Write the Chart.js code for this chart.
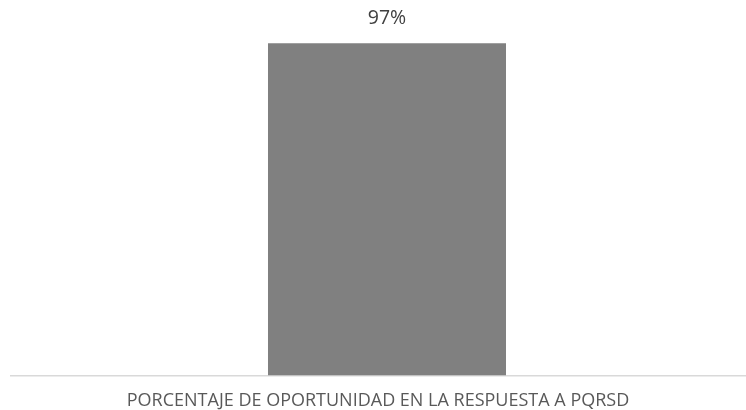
<!DOCTYPE html>
<html><head><meta charset="utf-8">
<script src="https://cdn.jsdelivr.net/npm/chart.js@4/dist/chart.umd.min.js"></script>
<style>
html,body{margin:0;padding:0;background:#fff;overflow:hidden;width:746px;height:410px;}
#wrap{position:absolute;left:0;top:0;width:776px;height:427px;}
</style></head>
<body><div id="wrap"><canvas id="c"></canvas></div>
<script>
const categories = ["PORCENTAJE DE OPORTUNIDAD EN LA RESPUESTA A PQRSD"];
const values = [97];
const valueLabels = ["97%"];

const labelPlugin = {
  id: 'vlabels',
  afterDatasetsDraw(chart) {
    const ctx = chart.ctx;
    const meta = chart.getDatasetMeta(0);
    ctx.save();
    ctx.font = '19.5px "Open Sans"';
    ctx.fillStyle = '#404040';
    ctx.textAlign = 'center';
    ctx.textBaseline = 'middle';
    meta.data.forEach((bar, i) => {
      ctx.fillText(valueLabels[i], bar.x, bar.y - 24.5);
    });
    ctx.restore();
  }
};

new Chart(document.getElementById('c'), {
  type: 'bar',
  data: {
    labels: categories,
    datasets: [{
      data: values,
      backgroundColor: '#808080',
      borderWidth: 0,
      barPercentage: 0.3165,
      categoryPercentage: 1
    }]
  },
  options: {
    responsive: true,
    maintainAspectRatio: false,
    animation: false,
    layout: { padding: { left: 11, right: 13, top: 33, bottom: 0 } },
    plugins: { legend: { display: false }, tooltip: { enabled: false } },
    scales: {
      x: {
        grid: { display: false, drawTicks: false },
        border: { display: true, color: '#d9d9d9', width: 1.5 },
        ticks: { color: '#595959', font: { family: '"Open Sans"', size: 18 }, padding: 15, labelOffset: -9, maxRotation: 0 }
      },
      y: {
        display: false,
        min: 0, max: 100
      }
    }
  },
  plugins: [labelPlugin]
});
</script></body></html>
